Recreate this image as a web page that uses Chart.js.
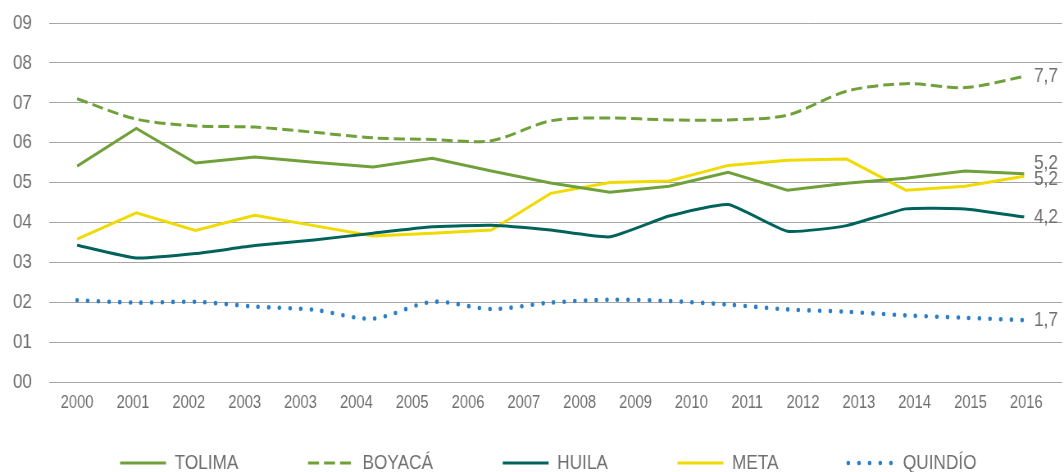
<!DOCTYPE html>
<html>
<head>
<meta charset="utf-8">
<script src="https://cdn.jsdelivr.net/npm/chart.js@4/dist/chart.umd.min.js"></script>
<style>
  html, body { margin: 0; padding: 0; background: #ffffff; overflow: hidden; width: 1064px; height: 472px; }
  /* the chart is laid out on a wider virtual canvas and condensed horizontally,
     reproducing the narrow lettering of the original */
  #wrap { width: 1298px; height: 472px; position: absolute; left: 0; top: 0;
          transform: scaleX(0.8197); transform-origin: 0 0; }
</style>
</head>
<body>
<div id="wrap"><canvas id="c"></canvas></div>
<script>
// ---- data ----
const years = [2000, 2001, 2002, 2003, 2004, 2005, 2006, 2007, 2008, 2009, 2010, 2011, 2012, 2013, 2014, 2015, 2016];
const xLabels = ['2000', '2001', '2002', '2003', '2003', '2004', '2005', '2006', '2007', '2008', '2009', '2010', '2011', '2012', '2013', '2014', '2015', '2016'];
const yTickLabels = ['00', '01', '02', '03', '04', '05', '06', '07', '08', '09'];
const seriesNames = ['TOLIMA', 'BOYACÁ', 'HUILA', 'META', 'QUINDÍO'];
const tolima  = [5.41, 6.36, 5.49, 5.64, 5.51, 5.39, 5.61, 5.29, 4.99, 4.76, 4.91, 5.26, 4.81, 4.98, 5.11, 5.29, 5.22];
const boyaca  = [7.10, 6.59, 6.42, 6.39, 6.26, 6.12, 6.08, 6.05, 6.55, 6.62, 6.57, 6.57, 6.69, 7.29, 7.48, 7.38, 7.66];
const huila   = [3.43, 3.11, 3.22, 3.42, 3.56, 3.73, 3.89, 3.93, 3.81, 3.64, 4.16, 4.45, 3.78, 3.92, 4.34, 4.34, 4.14];
const meta    = [3.58, 4.24, 3.80, 4.18, 3.92, 3.66, 3.73, 3.81, 4.73, 5.00, 5.04, 5.43, 5.56, 5.59, 4.81, 4.91, 5.16];
const quindio = [2.05, 1.99, 2.01, 1.89, 1.81, 1.59, 2.01, 1.83, 1.99, 2.06, 2.03, 1.94, 1.82, 1.76, 1.67, 1.61, 1.55];
const endLabels = ['5,2', '7,7', '4,2', '5,2', '1,7'];

// ---- styling ----
const FONT = "'Liberation Sans', Arial, sans-serif";
const TEXT = '#6f6f6f';
const GREEN = '#70a03a';

function pts(vals) { return years.map((y, i) => ({ x: y, y: vals[i] })); }

const endLabelPlugin = {
  id: 'endLabels',
  afterDatasetsDraw(chart, args, opts) {
    const ctx = chart.ctx;
    ctx.save();
    ctx.font = opts.size + 'px ' + FONT;
    ctx.fillStyle = opts.color;
    ctx.textAlign = 'left';
    ctx.textBaseline = 'middle';
    chart.data.datasets.forEach((ds, i) => {
      const m = chart.getDatasetMeta(i);
      const p = m.data[m.data.length - 1];
      ctx.fillText(endLabels[i], p.x + opts.dx, p.y + opts.dy[i]);
    });
    ctx.restore();
  }
};

const legendShift = {
  id: 'legendShift',
  afterLayout(chart, args, opts) {
    const lg = chart.legend;
    if (!lg) return;
    const pad = lg.options.labels.padding;
    lg.top = opts.centerY - opts.fontSize / 2 - pad;
    lg.bottom = chart.height;
    lg.height = lg.bottom - lg.top;
    lg.left = chart.chartArea.left - opts.leftShift;
    lg.width = lg.right - lg.left;
  }
};

function legendLabels(chart) {
  const items = Chart.defaults.plugins.legend.labels.generateLabels(chart);
  items.forEach((it) => {
    const ds = chart.data.datasets[it.datasetIndex];
    it.lineDash = ds.borderDash || [];
    it.lineCap = ds.borderCapStyle || 'butt';
    it.lineWidth = ds.borderWidth;
    it.strokeStyle = ds.borderColor;
  });
  return items;
}

new Chart(document.getElementById('c'), {
  type: 'line',
  data: {
    datasets: [
      { label: seriesNames[0], data: pts(tolima), borderColor: GREEN, backgroundColor: GREEN,
        borderWidth: 3, tension: 0, xAxisID: 'xYear', yAxisID: 'y' },
      { label: seriesNames[1], data: pts(boyaca), borderColor: GREEN, backgroundColor: GREEN,
        borderWidth: 3, borderDash: [13.4, 6.1], tension: 0.3, xAxisID: 'xYear', yAxisID: 'y' },
      { label: seriesNames[2], data: pts(huila), borderColor: '#00635b', backgroundColor: '#00635b',
        borderWidth: 3, tension: 0.15, xAxisID: 'xYear', yAxisID: 'y' },
      { label: seriesNames[3], data: pts(meta), borderColor: '#f0da00', backgroundColor: '#f0da00',
        borderWidth: 3, tension: 0, xAxisID: 'xYear', yAxisID: 'y' },
      { label: seriesNames[4], data: pts(quindio), borderColor: '#2a7dc7', backgroundColor: '#2a7dc7',
        borderWidth: 4.6, borderDash: [0, 13], borderCapStyle: 'round', tension: 0.3, xAxisID: 'xYear', yAxisID: 'y' }
    ]
  },
  options: {
    responsive: true,
    maintainAspectRatio: false,
    animation: false,
    elements: { point: { radius: 0, hoverRadius: 0 } },
    layout: { padding: { top: 23, left: 0, right: 0, bottom: 0 } },
    scales: {
      x: {
        type: 'linear',
        position: 'bottom',
        min: -0.5,
        max: 17.64,
        grid: { display: false, drawTicks: false },
        border: { display: false },
        afterBuildTicks: (s) => { s.ticks = xLabels.map((_, i) => ({ value: i })); },
        afterFit: (s) => { s.height = 32; s.paddingLeft = 0; s.paddingRight = 0; },
        ticks: {
          autoSkip: false, maxRotation: 0, minRotation: 0, padding: 10,
          color: TEXT, font: { family: FONT, size: 18 },
          callback: (v) => xLabels[v]
        }
      },
      xYear: {
        type: 'linear',
        display: false,
        min: 1999.528,
        max: 2016.641
      },
      y: {
        type: 'linear',
        position: 'left',
        min: 0,
        max: 9,
        afterFit: (s) => { s.width = 60; s.paddingTop = 0; s.paddingBottom = 0; },
        grid: { color: '#a6a6a6', lineWidth: 1, drawTicks: false },
        border: { display: false },
        ticks: {
          stepSize: 1, padding: 21, color: TEXT, font: { family: FONT, size: 21 },
          callback: (v) => yTickLabels[v]
        }
      }
    },
    plugins: {
      tooltip: { enabled: false },
      legend: {
        position: 'bottom',
        fullSize: false,
        maxHeight: 58,
        labels: {
          usePointStyle: true,
          pointStyle: 'line',
          pointStyleWidth: 56,
          padding: 85,
          color: TEXT,
          font: { family: FONT, size: 21 },
          generateLabels: legendLabels
        }
      },
      legendShift: { centerY: 463, fontSize: 21, leftShift: 18 },
      endLabels: { size: 21, color: TEXT, dx: 12, dy: [-11, 0, 0, 3, 0] }
    }
  },
  plugins: [endLabelPlugin, legendShift]
});
</script>
</body>
</html>
